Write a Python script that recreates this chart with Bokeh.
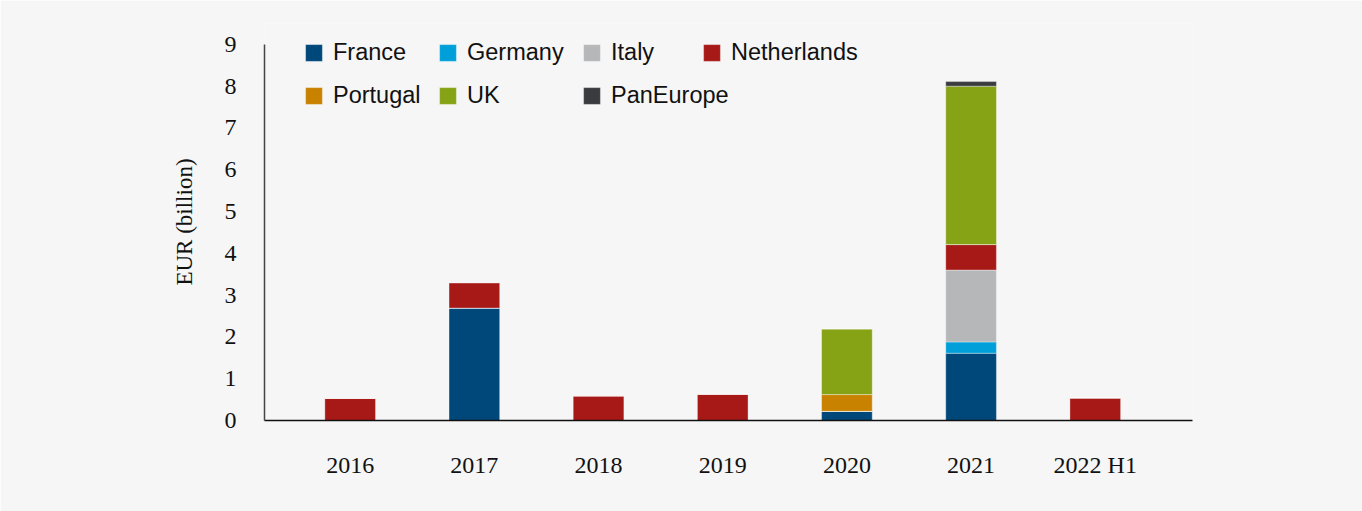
from bokeh.plotting import figure
from bokeh.models import Legend, LegendItem, FixedTicker, Range1d
from bokeh.embed import file_html
from bokeh.resources import INLINE

categories = ["2016", "2017", "2018", "2019", "2020", "2021", "2022 H1"]
series_names = ["France", "Germany", "Italy", "Netherlands", "Portugal", "UK", "PanEurope"]
France = [0, 2.69, 0, 0, 0.22, 1.61, 0]
Germany = [0, 0, 0, 0, 0, 0.27, 0]
Italy = [0, 0, 0, 0, 0, 1.72, 0]
Netherlands = [0.53, 0.61, 0.59, 0.63, 0, 0.61, 0.54]
Portugal = [0, 0, 0, 0, 0.40, 0, 0]
UK = [0, 0, 0, 0, 1.57, 3.79, 0]
PanEurope = [0, 0, 0, 0, 0, 0.11, 0]
y_ticks = [0, 1, 2, 3, 4, 5, 6, 7, 8, 9]

colors = ["#00477A", "#009FDA", "#B6B7B9", "#A71916", "#C98200", "#86A316", "#3A3B3F"]
values = [France, Germany, Italy, Netherlands, Portugal, UK, PanEurope]

BG = "#F6F6F6"
p = figure(width=1362, height=511, output_backend="svg", toolbar_location=None,
           x_range=Range1d(-0.69, 6.783), y_range=Range1d(0, 9.5),
           min_border_left=264, min_border_right=170, min_border_top=23, min_border_bottom=91,
           background_fill_color=BG, border_fill_color=BG, outline_line_color=None)
p.grid.visible = False

xs = list(range(len(categories)))
bottoms = [0.0] * len(categories)
renderers = []
for name, vals, col in zip(series_names, values, colors):
    tops = [b + v for b, v in zip(bottoms, vals)]
    r = p.vbar(x=xs, bottom=bottoms, top=tops, width=0.408, fill_color=col,
               line_color="white", line_alpha=0.35, line_width=1)
    renderers.append(r)
    bottoms = tops

# axes
p.yaxis.ticker = FixedTicker(ticks=y_ticks)
p.yaxis.bounds = (0, 9)
p.yaxis.axis_label = "EUR (billion)"
p.yaxis.axis_label_text_font = "Liberation Serif"
p.yaxis.axis_label_text_font_size = "23px"
p.yaxis.axis_label_text_font_style = "normal"
p.yaxis.axis_label_text_color = "#111111"
p.yaxis.axis_label_standoff = 25
p.yaxis.major_label_text_font = "Liberation Serif"
p.yaxis.major_label_text_font_size = "24px"
p.yaxis.major_label_text_color = "#111111"
p.yaxis.major_label_standoff = 28
p.yaxis.major_tick_out = 0
p.yaxis.major_tick_in = 0
p.yaxis.major_tick_line_color = None
p.yaxis.minor_tick_line_color = None
p.yaxis.axis_line_color = "#444444"
p.yaxis.axis_line_width = 1.5

p.xaxis.ticker = FixedTicker(ticks=xs)
p.xaxis.major_label_overrides = {i: c for i, c in enumerate(categories)}
p.xaxis.major_label_text_font = "Liberation Serif"
p.xaxis.major_label_text_font_size = "24px"
p.xaxis.major_label_text_color = "#111111"
p.xaxis.major_label_standoff = 31
p.xaxis.major_tick_out = 0
p.xaxis.major_tick_in = 0
p.xaxis.major_tick_line_color = None
p.xaxis.minor_tick_line_color = None
p.xaxis.axis_line_color = "#111111"
p.xaxis.axis_line_width = 1.5

# legend: one box per entry, positioned like the reference
positions = [(39, 354), (173, 354), (317, 354), (437, 354),
             (39, 311), (173, 311), (317, 311)]
for name, r, (lx, ly) in zip(series_names, renderers, positions):
    lg = Legend(items=[LegendItem(label=name, renderers=[r])], location=(lx, ly),
                orientation="horizontal", margin=0, padding=0, spacing=0,
                glyph_width=21, glyph_height=21, label_standoff=9, label_height=26,
                label_text_font="Liberation Sans", label_text_font_size="23.5px",
                label_text_color="#111111", border_line_color=None,
                background_fill_alpha=0)
    p.add_layout(lg, "center")

open("out.html", "w").write(file_html(p, INLINE))
